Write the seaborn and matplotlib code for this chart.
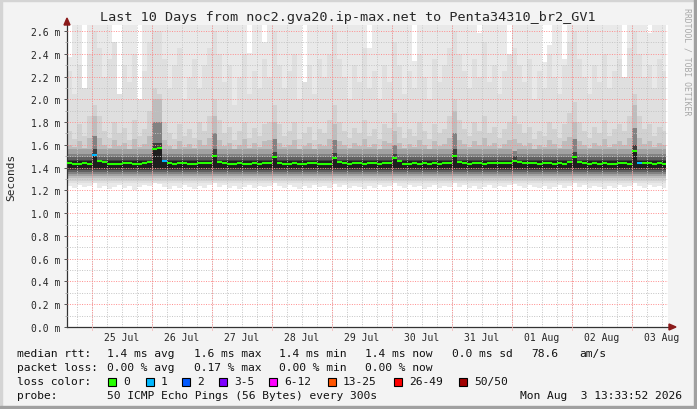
import numpy as np
import pandas as pd
import seaborn as sns
import matplotlib
matplotlib.use("Agg")
import matplotlib.pyplot as plt
from matplotlib.patches import Rectangle, Polygon

sns.set_style("white")
plt.rcParams['font.family'] = ['DejaVu Sans Mono', 'DejaVu Sans']

# ---- data: 2 hour steps, starting 24 Jul 14:00 (hours counted from 25 Jul 00:00)
start_hour = -10
step_hours = 2
end_hour = 229.4

# median rtt (ms)
median_ms = [
    1.44, 1.43, 1.435, 1.44, 1.435,
    1.51, 1.46, 1.445, 1.43, 1.43, 1.435, 1.44, 1.44, 1.43, 1.43, 1.44, 1.45,
    1.56, 1.57, 1.46, 1.44, 1.43, 1.44, 1.44, 1.435, 1.43, 1.44, 1.44, 1.44,
    1.505, 1.45, 1.44, 1.43, 1.435, 1.44, 1.43, 1.435, 1.44, 1.43, 1.44, 1.44,
    1.49, 1.44, 1.435, 1.43, 1.44, 1.43, 1.435, 1.44, 1.44, 1.43, 1.435, 1.435,
    1.485, 1.45, 1.44, 1.435, 1.44, 1.44, 1.43, 1.44, 1.44, 1.435, 1.44, 1.44,
    1.485, 1.46, 1.435, 1.43, 1.44, 1.435, 1.44, 1.43, 1.44, 1.435, 1.44, 1.44,
    1.505, 1.445, 1.44, 1.435, 1.44, 1.44, 1.435, 1.44, 1.44, 1.44, 1.44, 1.44,
    1.455, 1.445, 1.44, 1.44, 1.44, 1.435, 1.44, 1.44, 1.435, 1.44, 1.435, 1.45,
    1.495, 1.445, 1.44, 1.435, 1.44, 1.43, 1.44, 1.435, 1.43, 1.44, 1.44, 1.435,
    1.545, 1.44, 1.44, 1.44, 1.435, 1.44, 1.435,
]

# lost pings (of 50) where not zero: step -> count
loss_at = {5: 1, 19: 1, 114: 1}

# smoke: lower edge of the lightest layer
smoke_floor = [
    1.24, 1.22, 1.25, 1.23, 1.24,
    1.27, 1.22, 1.24, 1.21, 1.23, 1.25, 1.22, 1.24, 1.20, 1.23, 1.25, 1.24,
    1.28, 1.26, 1.23, 1.21, 1.24, 1.22, 1.25, 1.23, 1.21, 1.24, 1.22, 1.25,
    1.27, 1.23, 1.25, 1.22, 1.24, 1.21, 1.23, 1.25, 1.22, 1.24, 1.23, 1.24,
    1.27, 1.24, 1.22, 1.25, 1.23, 1.21, 1.24, 1.22, 1.25, 1.23, 1.24, 1.22,
    1.26, 1.23, 1.25, 1.22, 1.24, 1.23, 1.21, 1.24, 1.22, 1.25, 1.23, 1.24,
    1.27, 1.24, 1.22, 1.25, 1.23, 1.24, 1.21, 1.23, 1.25, 1.22, 1.24, 1.23,
    1.27, 1.23, 1.25, 1.22, 1.24, 1.21, 1.23, 1.25, 1.22, 1.24, 1.23, 1.25,
    1.26, 1.24, 1.22, 1.25, 1.23, 1.22, 1.24, 1.21, 1.23, 1.25, 1.22, 1.24,
    1.27, 1.23, 1.25, 1.22, 1.24, 1.23, 1.21, 1.24, 1.22, 1.25, 1.23, 1.24,
    1.28, 1.24, 1.22, 1.25, 1.23, 1.24, 1.22,
]

# smoke: top of the lightest layer is off the chart except at these steps
smoke_gaps = {0: 2.37, 3: 1.83, 9: 2.18, 10: 1.83, 14: 1.83, 36: 2.41, 39: 2.50,
              47: 1.74, 60: 2.45, 69: 2.34, 82: 2.58, 88: 1.74, 95: 2.33,
              96: 2.48, 99: 2.35, 111: 2.03, 116: 2.58}

# smoke: top of the second layer
smoke_upper = [
    2.25, 2.05, 2.30, 2.10, 2.40,
    2.60, 2.45, 2.20, 2.35, 2.50, 2.05, 2.30, 2.15, 2.40, 2.00, 2.25, 2.50,
    2.60, 2.60, 2.35, 2.10, 2.30, 2.45, 2.00, 2.20, 2.35, 2.10, 2.30, 2.45,
    2.60, 2.40, 2.15, 2.30, 1.95, 2.20, 2.40, 2.05, 2.25, 2.10, 2.35, 2.20,
    2.60, 2.30, 2.10, 2.25, 2.40, 2.00, 2.15, 2.30, 2.05, 2.35, 2.20, 2.40,
    2.60, 2.35, 2.20, 2.00, 2.30, 2.15, 2.45, 2.10, 2.25, 2.00, 2.30, 2.15,
    2.50, 2.30, 2.05, 2.25, 2.10, 2.40, 2.20, 2.00, 2.35, 2.15, 2.30, 2.45,
    2.60, 2.40, 2.25, 2.10, 2.35, 2.20, 2.50, 2.15, 2.30, 2.05, 2.25, 2.40,
    2.45, 2.30, 2.15, 2.35, 2.00, 2.25, 2.10, 2.40, 2.20, 2.05, 2.30, 2.50,
    2.60, 2.35, 2.20, 2.05, 2.30, 2.15, 2.40, 2.10, 2.25, 2.35, 2.20, 2.45,
    2.60, 2.40, 2.20, 2.30, 2.10, 2.35, 2.25,
]

# smoke: top of the third layer
smoke_mid = [
    1.72, 1.65, 1.78, 1.68, 1.85,
    1.95, 1.85, 1.72, 1.66, 1.80, 1.70, 1.75, 1.64, 1.82, 1.68, 1.74, 1.90,
    2.10, 2.05, 1.80, 1.70, 1.65, 1.78, 1.68, 1.74, 1.66, 1.80, 1.72, 1.85,
    2.00, 1.82, 1.70, 1.76, 1.64, 1.72, 1.80, 1.66, 1.75, 1.68, 1.78, 1.80,
    1.95, 1.78, 1.68, 1.72, 1.80, 1.65, 1.70, 1.76, 1.64, 1.74, 1.70, 1.82,
    1.95, 1.80, 1.72, 1.66, 1.75, 1.70, 1.82, 1.68, 1.74, 1.65, 1.78, 1.75,
    1.88, 1.76, 1.66, 1.74, 1.68, 1.80, 1.72, 1.65, 1.78, 1.70, 1.74, 1.85,
    2.00, 1.82, 1.74, 1.68, 1.80, 1.72, 1.85, 1.70, 1.76, 1.66, 1.74, 1.80,
    1.85, 1.78, 1.70, 1.76, 1.65, 1.72, 1.68, 1.80, 1.74, 1.66, 1.78, 1.88,
    1.98, 1.80, 1.72, 1.66, 1.76, 1.70, 1.82, 1.68, 1.74, 1.78, 1.72, 1.85,
    2.05, 1.85, 1.74, 1.78, 1.68, 1.76, 1.72,
]

# smoke: top of the fourth layer
smoke_inner = [
    1.60, 1.58, 1.63, 1.57, 1.66,
    1.70, 1.66, 1.60, 1.57, 1.64, 1.59, 1.62, 1.56, 1.65, 1.58, 1.61, 1.68,
    1.75, 1.72, 1.64, 1.59, 1.56, 1.63, 1.58, 1.61, 1.57, 1.64, 1.60, 1.66,
    1.70, 1.64, 1.59, 1.62, 1.56, 1.60, 1.65, 1.57, 1.62, 1.58, 1.63, 1.64,
    1.68, 1.62, 1.58, 1.60, 1.64, 1.56, 1.59, 1.62, 1.56, 1.61, 1.59, 1.65,
    1.68, 1.63, 1.60, 1.57, 1.62, 1.59, 1.65, 1.58, 1.61, 1.56, 1.63, 1.62,
    1.66, 1.62, 1.57, 1.61, 1.58, 1.64, 1.60, 1.56, 1.63, 1.59, 1.61, 1.66,
    1.70, 1.64, 1.61, 1.58, 1.63, 1.60, 1.66, 1.59, 1.62, 1.57, 1.61, 1.64,
    1.65, 1.62, 1.59, 1.62, 1.56, 1.60, 1.58, 1.64, 1.61, 1.57, 1.63, 1.67,
    1.69, 1.63, 1.60, 1.57, 1.62, 1.59, 1.65, 1.58, 1.61, 1.63, 1.60, 1.66,
    1.72, 1.66, 1.61, 1.63, 1.58, 1.62, 1.60,
]

# inner smoke layers: lower edges, and upper edges in quiet hours
inner_lo = [1.325, 1.345, 1.36, 1.38, 1.40]
inner_hi = [1.56, 1.52, 1.49, 1.47, 1.455]

# columns at the daily spikes
spike_steps = [5, 17, 18, 29, 41, 53, 65, 77, 89, 101, 113]
spike_light = [1.85, 2.00, 2.00, 1.85, 1.80, 1.78, 1.72, 1.90, 1.65, 1.80, 1.95]
spike_mid = [1.68, 1.80, 1.80, 1.70, 1.65, 1.64, 1.60, 1.70, 1.55, 1.65, 1.75]
spike_dark = [1.56, 1.62, 1.62, 1.56, 1.54, 1.53, 1.52, 1.56, 1.50, 1.54, 1.60]

day_labels = ['25 Jul', '26 Jul', '27 Jul', '28 Jul', '29 Jul',
              '30 Jul', '31 Jul', '01 Aug', '02 Aug', '03 Aug']

loss_names = ['0', '1', '2', '3-5', '6-12', '13-25', '26-49', '50/50']
loss_colors = ['#26ff00', '#00b8ff', '#0059ff', '#7e00ff', '#ff00ff',
               '#ff5500', '#ff0000', '#a10000']

# ---- build series
n = len(median_ms)
t_edges = np.append(start_hour + step_hours * np.arange(n), end_hour)
median = np.array(median_ms)
loss = np.zeros(n, dtype=int)
for k, v in loss_at.items():
    loss[k] = v

ceiling = np.full(n, 2.75)
for k, v in smoke_gaps.items():
    ceiling[k] = v

inner = np.array(smoke_inner)
layer_hi = [np.full(n, h) for h in inner_hi]
for s, a, b, c in zip(spike_steps, spike_light, spike_mid, spike_dark):
    inner[s] = a
    layer_hi[0][s] = b
    layer_hi[1][s] = b
    layer_hi[2][s] = c
    layer_hi[3][s] = c
    layer_hi[4][s] = median[s] + 0.01

layers = [
    (np.array(smoke_floor), ceiling, '#e9e9e9'),
    (np.full(n, 1.265), np.array(smoke_upper), '#dfdfdf'),
    (np.full(n, 1.285), np.array(smoke_mid), '#d1d1d1'),
    (np.full(n, 1.305), inner, '#bdbdbd'),
]
shades = ['#a2a2a2', '#828282', '#606060', '#3e3e3e', '#1e1e1e']
for lo, hi, c in zip(inner_lo, layer_hi, shades):
    layers.append((np.full(n, lo), hi, c))

# ---- figure
W, H = 697, 410
fig = plt.figure(figsize=(W / 100, H / 100), dpi=100, facecolor='#f3f3f3')


def fx(x):
    return x / W


def fy(y):
    return 1 - y / H


ax = fig.add_axes([fx(67), fy(328), fx(668) - fx(67), fy(26.3) - fy(328)])
ax.set_facecolor('white')

for lo, hi, c in layers:
    ax.fill_between(t_edges, np.append(lo, lo[-1]), np.append(hi, hi[-1]),
                    step='post', color=c, lw=0, zorder=1)

# median line coloured by loss
seg = pd.DataFrame({
    't': np.concatenate([t_edges[:-1], t_edges[1:]]),
    'ms': np.concatenate([median, median]),
    'step': np.concatenate([np.arange(n), np.arange(n)]),
    'loss': np.concatenate([loss, loss]),
})
palette = {v: loss_colors[v] for v in sorted(set(loss))}
sns.lineplot(data=seg, x='t', y='ms', hue='loss', units='step', estimator=None,
             palette=palette, legend=False, lw=1.5, solid_capstyle='butt',
             zorder=4, ax=ax)

ax.set_xlim(-10, 230.4)
ax.set_ylim(0, 2.65)

# grid
dots = (0, (1, 1.5))
ax.set_axisbelow(False)
ax.xaxis.remove_overlapping_locs = False
ax.set_xticks(12 + 24 * np.arange(len(day_labels)), labels=day_labels)
ax.set_xticks(np.arange(-6, 230, 6), minor=True)
ax.set_yticks(np.arange(0, 2.61, 0.2),
              labels=[f'{v:.1f} m' for v in np.arange(0, 2.61, 0.2)])
ax.set_yticks(np.arange(0.1, 2.65, 0.2), minor=True)
ax.grid(which='minor', color='#c4c4c4', ls=dots, lw=0.7)
ax.grid(which='major', axis='y', color='#ff8c8c', ls=dots, lw=0.7)
ax.grid(which='major', axis='x', visible=False)
ax.vlines(24 * np.arange(10), -0.03, 2.65, colors='#ff8c8c', ls=dots,
          lw=0.7, zorder=3, clip_on=False)

ax.tick_params(axis='x', which='major', length=0, pad=3.6, labelsize=7)
ax.tick_params(axis='x', which='minor', length=0)
ax.tick_params(axis='y', which='major', left=True, length=2.2, width=0.7,
               color='#555555', pad=2.9, labelsize=7)
ax.tick_params(axis='y', which='minor', left=True, length=1.5, width=0.7,
               color='#aaaaaa')
ax.set_xlabel('')
ax.set_ylabel('')
for side in ['top', 'right']:
    ax.spines[side].set_visible(False)
for side in ['left', 'bottom']:
    ax.spines[side].set_color('#333333')
    ax.spines[side].set_linewidth(0.9)

# axis arrows
fig.add_artist(Polygon([(fx(67), fy(19)), (fx(64), fy(26)), (fx(70), fy(26))],
                       closed=True, color='#8b1a1a', transform=fig.transFigure))
fig.add_artist(Polygon([(fx(676), fy(328)), (fx(669), fy(325)), (fx(669), fy(331))],
                       closed=True, color='#8b1a1a', transform=fig.transFigure))

# texts
fig.text(fx(348), fy(17), 'Last 10 Days from noc2.gva20.ip-max.net to Penta34310_br2_GV1',
         ha='center', va='center', size=9.7)
fig.text(fx(11), fy(177), 'Seconds', rotation=90, ha='center', va='center', size=8)
fig.text(fx(687), fy(8), 'RRDTOOL / TOBI OETIKER', rotation=270, ha='center',
         va='top', size=5.9, color='#a8a8a8')

lg = dict(size=8.1, va='center', ha='left', color='#111111')
row1 = [(17, 'median rtt:'), (107, '1.4 ms avg'), (194, '1.6 ms max'),
        (279, '1.4 ms min'), (365, '1.4 ms now'), (452, '0.0 ms sd'),
        (531, '78.6'), (579, 'am/s')]
row2 = [(17, 'packet loss:'), (107, '0.00 % avg'), (194, '0.17 % max'),
        (279, '0.00 % min'), (365, '0.00 % now')]
for x, s in row1:
    fig.text(fx(x), fy(354.3), s, **lg)
for x, s in row2:
    fig.text(fx(x), fy(368.3), s, **lg)

fig.text(fx(17), fy(382.3), 'loss color:', **lg)
box_x = [108, 146, 182, 219, 269, 328, 394, 459]
for x, name, c in zip(box_x, loss_names, loss_colors):
    fig.add_artist(Rectangle((fx(x), fy(386.5)), fx(8), 8 / H, facecolor=c,
                             edgecolor='black', lw=0.8, transform=fig.transFigure))
    fig.text(fx(x + 15), fy(382.3), name, **lg)

fig.text(fx(17), fy(396), 'probe:', **lg)
fig.text(fx(107), fy(396), '50 ICMP Echo Pings (56 Bytes) every 300s', **lg)
fig.text(fx(682), fy(396), 'Mon Aug  3 13:33:52 2026',
         **{**lg, 'ha': 'right'})

# canvas border
fig.add_artist(Rectangle((0, fy(2)), 1, 2 / H, color='#d4d4d4', transform=fig.transFigure))
fig.add_artist(Rectangle((0, 0), fx(2), 1, color='#d4d4d4', transform=fig.transFigure))
fig.add_artist(Rectangle((0, 0), 1, 3 / H, color='#a0a0a0', transform=fig.transFigure))
fig.add_artist(Rectangle((fx(694), 0), fx(3), 1, color='#a0a0a0', transform=fig.transFigure))

fig.savefig('out.png', dpi=100, facecolor=fig.get_facecolor())
